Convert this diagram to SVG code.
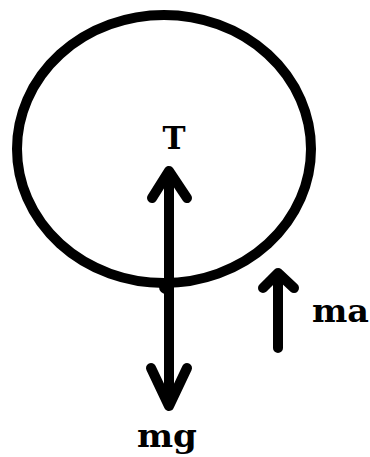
<svg xmlns="http://www.w3.org/2000/svg" width="370" height="457" viewBox="0 0 370 457">
<style>
.s{fill:none;stroke:#000;stroke-width:10;stroke-linecap:round;stroke-linejoin:round}
.t{font-family:"DejaVu Serif","Liberation Serif",serif;font-weight:bold;font-size:31px;fill:#000}
</style>
<rect width="370" height="457" fill="#fff"/>
<g id="body">
<ellipse cx="164" cy="149" rx="147" ry="134" fill="none" stroke="#000" stroke-width="10"/>
<circle cx="166" cy="287" r="7" fill="#000"/>
</g>
<g id="connectors">
<path class="s" d="M169 285 V171 M152 198 L169 171 L187 198"/>
<path class="s" d="M169 285 V406 M151 368 L169 406 L187 368"/>
<path class="s" d="M278 348 V273 M263 288 L278 273 L294 288"/>
</g>
<g id="label-T"><text class="t" x="174" y="149" text-anchor="middle">T</text></g>
<g id="label-mg"><text class="t" x="167" y="447" text-anchor="middle" textLength="60" lengthAdjust="spacingAndGlyphs">mg</text></g>
<g id="label-ma"><text class="t" x="312" y="322" textLength="57" lengthAdjust="spacingAndGlyphs">ma</text></g>
</svg>
